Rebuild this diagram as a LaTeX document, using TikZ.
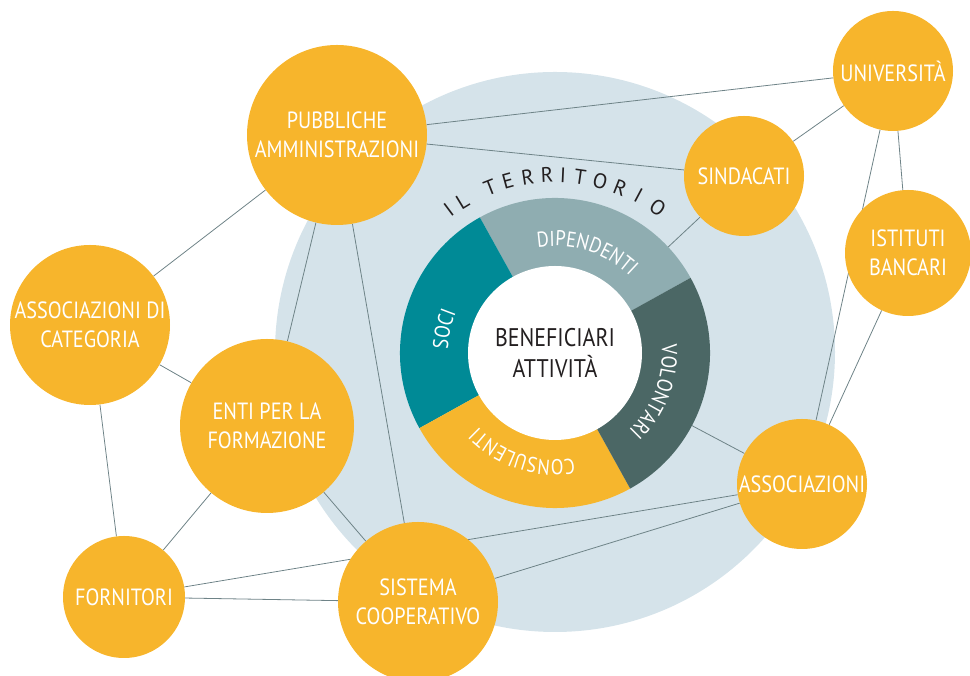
\documentclass[tikz,border=0pt]{standalone}
\usepackage{fontspec}
\setmainfont{PT Sans}
\newfontfamily\cond[FakeStretch=0.86]{PT Sans}
\usetikzlibrary{backgrounds, decorations.text}

\definecolor{hubfill}{HTML}{F7B52C}
\definecolor{territ}{HTML}{D5E3EA}
\definecolor{linkgray}{HTML}{6E8387}
\definecolor{soci}{HTML}{008A96}
\definecolor{dipend}{HTML}{8FADB1}
\definecolor{volont}{HTML}{4B6765}
\definecolor{consul}{HTML}{F6B62D}
\definecolor{ink}{HTML}{231F20}

\newcommand\seglbl{\cond\fontsize{21.5}{21.5}\selectfont\color{white}}

\begin{document}
\begin{tikzpicture}[x=1pt, y=1pt,
  hub/.style = {circle, fill=hubfill, text=white, align=center, inner sep=0pt,
                font=\cond\fontsize{23.5}{29}\selectfont},
  link/.style = {draw=linkgray, line width=0.8pt},
  terr/.style = {text=ink, inner sep=0pt, font=\fontsize{21}{21}\selectfont}]
\useasboundingbox (0,0) rectangle (970,676);

\coordinate (ringc) at (555,323);

% the stakeholders
\node[hub, minimum size=180pt](pa) at (337,541) {PUBBLICHE\\AMMINISTRAZIONI};
\node[hub, minimum size=120pt](uni) at (893,605) {UNIVERSITÀ};
\node[hub, minimum size=120pt](sind) at (744,500) {SINDACATI};
\node[hub, minimum size=126pt](banc) at (908,423) {ISTITUTI\\BANCARI};
\node[hub, minimum size=130pt](assoc) at (802,192) {ASSOCIAZIONI};
\node[hub, minimum size=160pt](coop) at (418,74) {SISTEMA\\COOPERATIVO};
\node[hub, minimum size=122pt](forn) at (124,79) {FORNITORI};
\node[hub, minimum size=174pt](enti) at (267,250) {ENTI PER LA\\FORMAZIONE};
\node[hub, minimum size=160pt](cat) at (90,351) {ASSOCIAZIONI DI\\CATEGORIA};

\begin{scope}[on background layer]
\fill[territ] (555,324) circle[radius=280];
\draw[link] (pa) -- (uni);
\draw[link] (pa) -- (sind);
\draw[link] (sind) -- (uni);
\draw[link] (sind) -- (ringc);
\draw[link] (uni) -- (banc);
\draw[link] (uni) -- (assoc);
\draw[link] (banc) -- (assoc);
\draw[link] (assoc) -- (ringc);
\draw[link] (forn) -- (assoc);
\draw[link] (coop) -- (assoc);
\draw[link] (forn) -- (coop);
\draw[link] (forn) -- (enti);
\draw[link] (forn) -- (cat);
\draw[link] (cat) -- (enti);
\draw[link] (cat) -- (pa);
\draw[link] (pa) -- (enti);
\draw[link] (pa) -- (coop);
\draw[link] (enti) -- (coop);
\end{scope}

% the ring
\fill[dipend] (ringc) -- ++(29:155) arc[start angle=29, end angle=119, radius=155] -- cycle;
\fill[soci] (ringc) -- ++(119:155) arc[start angle=119, end angle=209, radius=155] -- cycle;
\fill[consul] (ringc) -- ++(209:155) arc[start angle=209, end angle=299, radius=155] -- cycle;
\fill[volont] (ringc) -- ++(-61:155) arc[start angle=-61, end angle=29, radius=155] -- cycle;
\node[circle, fill=white, minimum size=174pt, inner sep=0pt, align=center, text=ink,
      font=\cond\fontsize{25.5}{31}\selectfont](benef) at (ringc) {BENEFICIARI\\ATTIVITÀ};

\path[decorate, decoration={text along path, text align=center, text={|\seglbl|DIPENDENTI}}]
  (ringc) ++(117.5:107) arc[start angle=117.5, end angle=27.5, radius=107];
\path[decorate, decoration={text along path, text align=center, text={|\seglbl|SOCI}}]
  (ringc) ++(213:107) arc[start angle=213, end angle=123, radius=107];
\path[decorate, decoration={text along path, text align=center, text={|\seglbl|VOLONTARI}}]
  (ringc) ++(24:107) arc[start angle=24, end angle=-66, radius=107];
\path[decorate, decoration={text along path, text align=center, text={|\seglbl|CONSULENTI}}]
  (ringc) ++(297:107) arc[start angle=297, end angle=207, radius=107];

% il territorio
\foreach \a/\l [count=\i] in {126.7/I, 121.3/L, 111.4/T, 105.4/E, 98.8/R, 92.6/R, 87.4/I,
                               81.9/T, 75.3/O, 68.5/R, 62/I, 54.8/O}
  \node[terr, rotate=\a-90](ter\i) at ([shift={(\a:178)}]ringc) {\l};
\end{tikzpicture}
\end{document}
